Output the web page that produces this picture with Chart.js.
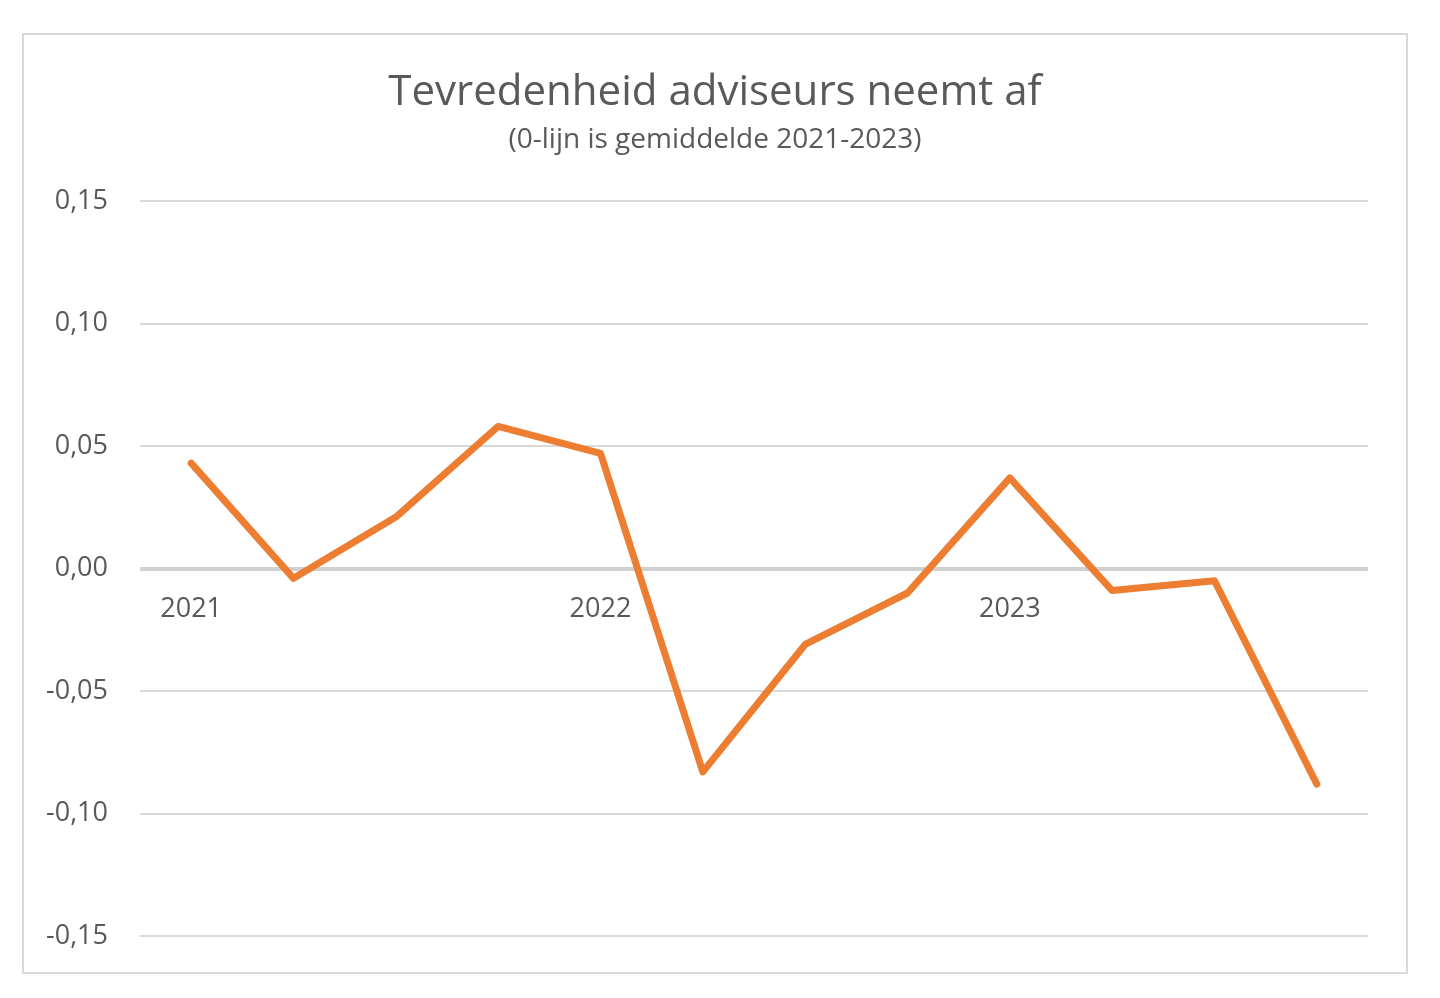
<!DOCTYPE html>
<html>
<head>
<meta charset="utf-8">
<script src="https://cdn.jsdelivr.net/npm/chart.js@4.4.1/dist/chart.umd.min.js"></script>
<style>
  body { margin: 0; background: #fff; }
  #frame {
    position: absolute;
    left: 22px; top: 33px;
    width: 1382px; height: 937px;
    border: 2px solid #d9d9d9;
  }
</style>
</head>
<body>
<div id="frame"><canvas id="chart"></canvas></div>
<script>
// Quarters 2021-2023, only the first quarter of a year gets a label
const quarters = ['2021', '', '', '', '2022', '', '', '', '2023', '', '', ''];
// Deviation from the 2021-2023 average
const satisfaction = [0.043, -0.004, 0.021, 0.058, 0.047, -0.083, -0.031, -0.010, 0.037, -0.009, -0.005, -0.088];
const yTicks = [-0.15, -0.10, -0.05, 0.00, 0.05, 0.10, 0.15];

const textColor = '#595959';
const fontFamily = "'Open Sans', sans-serif";

// Excel style: 0,05 with a comma
function formatTick(v) {
    if (Math.abs(v) < 1e-9) v = 0;
    return v.toFixed(2).replace('.', ',');
}

const ctx = document.getElementById('chart').getContext('2d');

window.chart = new Chart(ctx, {
    type: 'line',
    data: {
        labels: quarters,
        datasets: [{
            label: 'Tevredenheid',
            data: satisfaction,
            borderColor: '#ED7D31',
            borderWidth: 7,
            borderJoinStyle: 'round',
            borderCapStyle: 'round',
            pointRadius: 0,
            tension: 0,
            fill: false
        }]
    },
    options: {
        responsive: true,
        maintainAspectRatio: false,
        animation: false,
        layout: {
            padding: { left: 0, right: 0, top: 0, bottom: 36 }
        },
        plugins: {
            legend: { display: false },
            tooltip: { enabled: false },
            title: {
                display: true,
                text: 'Tevredenheid adviseurs neemt af',
                color: textColor,
                font: { family: fontFamily, size: 42, weight: 'normal' },
                padding: { top: 33, bottom: 2 }
            },
            subtitle: {
                display: true,
                text: '(0-lijn is gemiddelde 2021-2023)',
                color: textColor,
                font: { family: fontFamily, size: 28, weight: 'normal' },
                padding: { top: 3, bottom: 44 }
            }
        },
        scales: {
            x: {
                position: { y: 0 },
                offset: true,
                grid: { display: false, drawTicks: false },
                border: { display: false },
                ticks: {
                    autoSkip: false,
                    maxRotation: 0,
                    padding: 25,
                    color: textColor,
                    font: { family: fontFamily, size: 27 }
                },
                // labels sit on the 0-line, they should not take room at the bottom
                afterFit: function(scale) {
                    scale.height = 0;
                }
            },
            y: {
                min: -0.15,
                max: 0.15,
                afterBuildTicks: function(scale) {
                    scale.ticks = yTicks.map(v => ({ value: v }));
                },
                afterFit: function(scale) {
                    scale.width = 116;
                    // the big tick padding should not push the plot area in
                    scale.paddingTop = 0;
                    scale.paddingBottom = 0;
                },
                grid: {
                    color: ctx => ctx.tick && Math.abs(ctx.tick.value) < 1e-9 ? '#d0d0d0' : '#d9d9d9',
                    lineWidth: ctx => ctx.tick && Math.abs(ctx.tick.value) < 1e-9 ? 4 : 2,
                    drawTicks: false
                },
                border: { display: false },
                ticks: {
                    padding: 32,
                    color: textColor,
                    font: { family: fontFamily, size: 27 },
                    callback: formatTick
                }
            },
            // empty right margin so the title stays centred on the frame
            yRight: {
                position: 'right',
                grid: { display: false, drawTicks: false },
                border: { display: false },
                ticks: { display: false },
                afterFit: function(scale) {
                    scale.width = 38;
                }
            }
        }
    }
});
</script>
</body>
</html>
